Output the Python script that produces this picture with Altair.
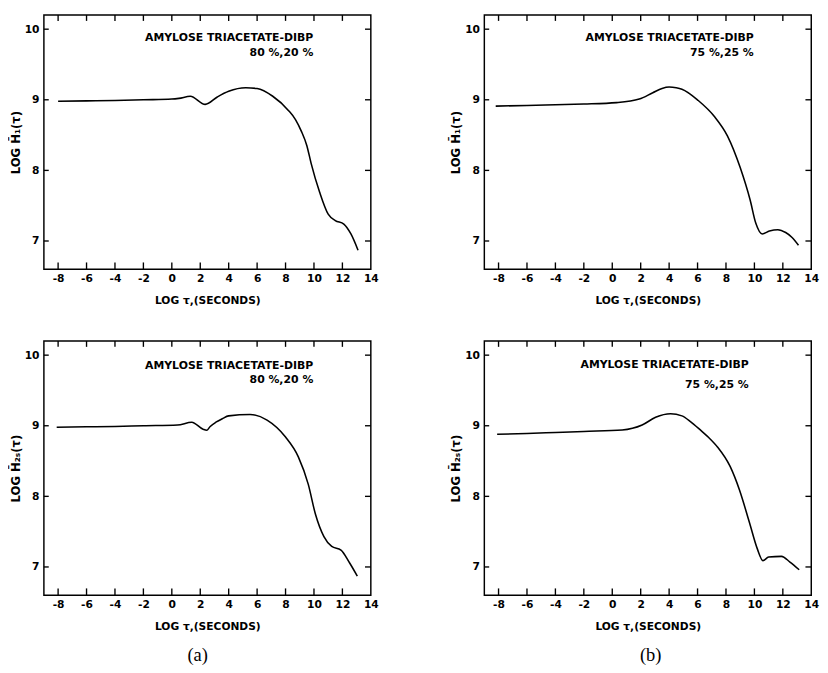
import altair as alt
import pandas as pd

# ---- data ----
a_top_x = [-8, -6, -4, -2, 0, 0.5, 1.3, 2.35, 3.2, 4.0, 5.2, 6.0, 7.1, 8.2, 8.7, 9.1, 9.5, 9.8, 10.4, 11.0, 11.5, 12.1, 12.6, 13.1]
a_top_y = [8.98, 8.985, 8.99, 9.0, 9.01, 9.02, 9.05, 8.935, 9.04, 9.12, 9.17, 9.16, 9.05, 8.85, 8.72, 8.56, 8.35, 8.10, 7.69, 7.38, 7.29, 7.24, 7.10, 6.87]

b_top_x = [-8.2, -6, -4, -2, 0.3, 1.9, 2.85, 3.5, 4.0, 4.5, 4.9, 6.05, 7.2, 8.1, 9.0, 9.7, 10.1, 10.55, 11.05, 11.65, 12.2, 12.65, 13.1]
b_top_y = [8.91, 8.92, 8.93, 8.94, 8.96, 9.01, 9.10, 9.16, 9.18, 9.17, 9.15, 8.99, 8.76, 8.49, 8.04, 7.58, 7.25, 7.10, 7.14, 7.16, 7.12, 7.05, 6.94]

a_bot_x = [-8.1, -6, -4, -2, 0.4, 1.4, 2.2, 2.45, 2.7, 3.1, 3.55, 4.0, 5.5, 6.7, 8.0, 8.9, 9.6, 10.1, 10.7, 11.25, 11.9, 12.5, 13.05]
a_bot_y = [8.98, 8.985, 8.99, 9.0, 9.01, 9.05, 8.95, 8.935, 8.99, 9.05, 9.10, 9.14, 9.16, 9.08, 8.84, 8.56, 8.17, 7.75, 7.43, 7.29, 7.24, 7.06, 6.87]

b_bot_x = [-8.1, -6, -4, -2, 0.7, 2.1, 3.05, 4.1, 4.9, 5.5, 6.25, 6.8, 7.4, 8.3, 8.95, 9.65, 10.2, 10.6, 11.0, 11.9, 12.5, 13.15]
b_bot_y = [8.88, 8.89, 8.905, 8.92, 8.94, 9.01, 9.12, 9.17, 9.14, 9.06, 8.93, 8.83, 8.70, 8.42, 8.09, 7.63, 7.26, 7.09, 7.14, 7.15, 7.07, 6.96]

x_tick_values = [-8, -6, -4, -2, 0, 2, 4, 6, 8, 10, 12, 14]
y_tick_values = [7, 8, 9, 10]

x_title = "LOG τ,(SECONDS)"
header = "AMYLOSE TRIACETATE-DIBP"
comp_a = "80 %,20 %"
comp_b = "75 %,25 %"

X_DOM = [-9, 14]
Y_DOM = [6.6, 10.2]
W, H = 337, 262
FONT = "DejaVu Sans"


def panel(xs, ys, ytitle, line2, tx, ty1, ty2, caption=None, cap_dx=0):
    xs_scale = alt.Scale(domain=X_DOM, nice=False, zero=False)
    ys_scale = alt.Scale(domain=Y_DOM, nice=False, zero=False)
    x_axis = alt.Axis(
        values=x_tick_values, title=x_title, ticks=False, domain=False, grid=False,
        labelExpr="'' + datum.value",
        labelFlush=False, labelPadding=4, labelFont=FONT, labelFontWeight="bold",
        labelFontSize=11, labelColor="black", titleFont=FONT, titleFontWeight="bold",
        titleFontSize=11, titleColor="black", titlePadding=11)
    y_axis = alt.Axis(
        values=y_tick_values, title=ytitle, ticks=False, domain=False, grid=False,
        labelPadding=5, labelFont=FONT, labelFontWeight="bold", labelFontSize=11,
        labelColor="black", titleFont=FONT, titleFontWeight="bold", titleFontSize=12,
        titleColor="black", titlePadding=2)
    df = pd.DataFrame({"x": xs, "y": ys})
    curve = alt.Chart(df).mark_line(
        color="black", strokeWidth=1.6, interpolate="monotone"
    ).encode(
        x=alt.X("x:Q", scale=xs_scale, axis=x_axis),
        y=alt.Y("y:Q", scale=ys_scale, axis=y_axis),
    )
    xt = pd.DataFrame({"x": x_tick_values[:-1]})
    yt = pd.DataFrame({"y": y_tick_values})
    rule = dict(color="black", strokeWidth=1.4)
    bottom = alt.Chart(xt).mark_rule(**rule).encode(
        x=alt.X("x:Q", scale=xs_scale, axis=x_axis), y=alt.value(H), y2=alt.value(H - 7))
    top = alt.Chart(xt).mark_rule(**rule).encode(
        x=alt.X("x:Q", scale=xs_scale, axis=x_axis), y=alt.value(0), y2=alt.value(6))
    left = alt.Chart(yt).mark_rule(**rule).encode(
        y=alt.Y("y:Q", scale=ys_scale, axis=y_axis), x=alt.value(0), x2=alt.value(5))
    right = alt.Chart(yt).mark_rule(**rule).encode(
        y=alt.Y("y:Q", scale=ys_scale, axis=y_axis), x=alt.value(W), x2=alt.value(W - 6))
    tdf = pd.DataFrame({"x": [tx, tx], "y": [ty1, ty2], "label": [header, line2]})
    text = alt.Chart(tdf).mark_text(
        align="right", baseline="middle", font=FONT, fontWeight="bold", fontSize=11.2,
        color="black"
    ).encode(
        x=alt.X("x:Q", scale=xs_scale, axis=x_axis),
        y=alt.Y("y:Q", scale=ys_scale, axis=y_axis),
        text="label:N")
    ch = alt.layer(curve, bottom, top, left, right, text).properties(width=W, height=H)
    if caption:
        ch = ch.properties(title=alt.TitleParams(
            caption, orient="bottom", font="Liberation Serif", fontSize=19,
            fontWeight="normal", color="black", offset=16, dx=cap_dx))
    return ch


pa_top = panel(a_top_x, a_top_y, "LOG H̄₁(τ)", comp_a, 9.95, 9.87, 9.66)
pb_top = panel(b_top_x, b_top_y, "LOG H̄₁(τ)", comp_b, 9.95, 9.87, 9.66)
pa_bot = panel(a_bot_x, a_bot_y, "LOG H̄₂ₛ(τ)", comp_a, 9.95, 9.85, 9.64, "(a)", -10)
pb_bot = panel(b_bot_x, b_bot_y, "LOG H̄₂ₛ(τ)", comp_b, 9.6, 9.86, 9.57, "(b)", 3)

chart = alt.vconcat(
    alt.hconcat(pa_top, pb_top, spacing=71),
    alt.hconcat(pa_bot, pb_bot, spacing=71),
    spacing=34,
).properties(
    padding={"left": 0, "top": -5, "right": 0, "bottom": 0},
    background="white",
).configure_view(stroke="black", strokeWidth=1.5)

chart.save("out.html", embed_options={"renderer": "svg", "actions": False})
